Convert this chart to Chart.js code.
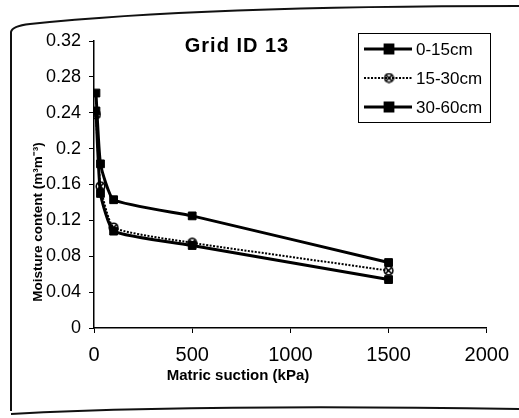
<!DOCTYPE html>
<html>
<head>
<meta charset="utf-8">
<script src="https://cdn.jsdelivr.net/npm/chart.js@4/dist/chart.umd.min.js"></script>
<style>
  html, body { margin: 0; padding: 0; background: #fff; }
  #wrap { width: 519px; height: 418px; position: relative; }
</style>
</head>
<body>
<div id="wrap"><canvas id="myChart" width="519" height="418"></canvas></div>
<script>
// matric suction (kPa) and moisture content (m3/m3) per depth
const suction = [10, 33, 100, 500, 1500];
const depth0to15 = [0.262, 0.183, 0.143, 0.125, 0.073];
const depth15to30 = [0.238, 0.158, 0.112, 0.095, 0.064];
const depth30to60 = [0.242, 0.150, 0.108, 0.092, 0.054];
const depthLabels = ['0-15cm', '15-30cm', '30-60cm'];
const xTicks = [0, 500, 1000, 1500, 2000];
const yTicks = [0, 0.04, 0.08, 0.12, 0.16, 0.2, 0.24, 0.28, 0.32];

const FONT = '"Liberation Sans", Arial, sans-serif';
Chart.defaults.font.family = FONT;
Chart.defaults.color = '#000';

const toPoints = vals => suction.map((s, i) => ({ x: s, y: vals[i] }));

// hatched round marker for the middle layer
const hatchMarker = (() => {
  const cv = document.createElement('canvas');
  cv.width = 11; cv.height = 11;
  const g = cv.getContext('2d');
  g.strokeStyle = '#000';
  g.lineWidth = 1.6;
  g.beginPath();
  g.arc(5.5, 5.5, 4.3, 0, Math.PI * 2);
  g.stroke();
  g.beginPath();
  g.moveTo(2, 2); g.lineTo(9, 9);
  g.moveTo(9, 2); g.lineTo(2, 9);
  g.stroke();
  return cv;
})();

// scanned page frame around the figure
const framePlugin = {
  id: 'frame',
  beforeDraw(chart) {
    const c = chart.ctx;
    c.save();
    c.fillStyle = '#fff';
    c.fillRect(0, 0, chart.width, chart.height);
    c.strokeStyle = '#111';
    c.lineWidth = 2;
    c.beginPath();
    c.moveTo(11, 411);
    c.lineTo(11, 32);
    c.quadraticCurveTo(12, 26, 30, 24);
    c.quadraticCurveTo(200, 6, 519, 6);
    c.stroke();
    c.beginPath();
    c.moveTo(11, 414);
    c.quadraticCurveTo(200, 404, 519, 409);
    c.stroke();
    c.restore();
  }
};

// chart title, axis titles and boxed legend
const overlayPlugin = {
  id: 'overlay',
  afterDraw(chart) {
    const c = chart.ctx;
    c.save();
    c.fillStyle = '#000';
    c.textAlign = 'center';
    c.textBaseline = 'middle';
    c.font = 'bold 20px ' + FONT;
    c.letterSpacing = '1px';
    c.fillText('Grid ID 13', 237, 46);
    c.letterSpacing = '0px';

    c.font = 'bold 15px ' + FONT;
    c.fillText('Matric suction (kPa)', 238, 376);
    c.save();
    c.translate(38, 222);
    c.rotate(-Math.PI / 2);
    c.font = 'bold 13.5px ' + FONT;
    c.fillText('Moisture content (m³m⁻³)', 0, 0);
    c.restore();

    const bx = 358, by = 33, bw = 132, bh = 89;
    c.fillStyle = '#fff';
    c.fillRect(bx, by, bw, bh);
    c.strokeStyle = '#000';
    c.lineWidth = 1;
    c.strokeRect(bx + 0.5, by + 0.5, bw, bh);
    chart.data.datasets.forEach((ds, i) => {
      const y = by + 16 + i * 29;
      c.strokeStyle = '#000';
      c.lineWidth = ds.borderWidth;
      c.setLineDash(ds.borderDash || []);
      c.beginPath();
      c.moveTo(bx + 6, y);
      c.lineTo(bx + 54, y);
      c.stroke();
      c.setLineDash([]);
      c.fillStyle = '#000';
      Chart.helpers.drawPoint(c, {
        pointStyle: ds.pointStyle,
        radius: ds.pointRadius,
        borderWidth: ds.pointBorderWidth
      }, bx + 31, y);
      c.fillStyle = '#000';
      c.font = '17px ' + FONT;
      c.textAlign = 'left';
      c.fillText(ds.label, bx + 58, y + 1);
    });
    c.restore();
  }
};

const ctx = document.getElementById('myChart').getContext('2d');
new Chart(ctx, {
  type: 'line',
  data: {
    datasets: [{
      label: depthLabels[0],
      data: toPoints(depth0to15),
      borderColor: '#000',
      backgroundColor: '#000',
      borderWidth: 3,
      pointStyle: 'rect',
      pointRadius: 5.5,
      pointBorderWidth: 1,
      tension: 0.15
    }, {
      label: depthLabels[1],
      data: toPoints(depth15to30),
      borderColor: '#000',
      backgroundColor: '#fff',
      borderWidth: 2,
      borderDash: [2, 1.5],
      pointStyle: hatchMarker,
      pointRadius: 5,
      pointBorderWidth: 1,
      tension: 0.15
    }, {
      label: depthLabels[2],
      data: toPoints(depth30to60),
      borderColor: '#000',
      backgroundColor: '#000',
      borderWidth: 3,
      pointStyle: 'rect',
      pointRadius: 5.5,
      pointBorderWidth: 1,
      tension: 0.15
    }]
  },
  options: {
    responsive: false,
    animation: false,
    layout: { padding: { left: 18, top: 41, right: 32, bottom: 0 } },
    plugins: {
      legend: { display: false },
      title: { display: false },
      tooltip: { enabled: false }
    },
    scales: {
      x: {
        type: 'linear',
        min: 0,
        max: 2000,
        afterBuildTicks: s => { s.ticks = xTicks.map(v => ({ value: v })); },
        afterFit: s => { s.height = 90; },
        border: { color: '#000', width: 1.5 },
        grid: { drawOnChartArea: false, color: '#000', tickLength: 5 },
        ticks: {
          font: { size: 20 },
          padding: 10,
          maxRotation: 0,
          color: '#000',
          callback: v => String(v)
        }
      },
      y: {
        min: 0,
        max: 0.32,
        afterBuildTicks: s => { s.ticks = yTicks.map(v => ({ value: v })); },
        afterFit: s => { s.width = 76; },
        border: { color: '#000', width: 1.5 },
        grid: { drawOnChartArea: false, color: '#000', tickLength: 5 },
        ticks: {
          font: { size: 18 },
          padding: 8,
          color: '#000',
          callback: v => String(Number(v.toFixed(2)))
        }
      }
    }
  },
  plugins: [framePlugin, overlayPlugin]
});
</script>
</body>
</html>
